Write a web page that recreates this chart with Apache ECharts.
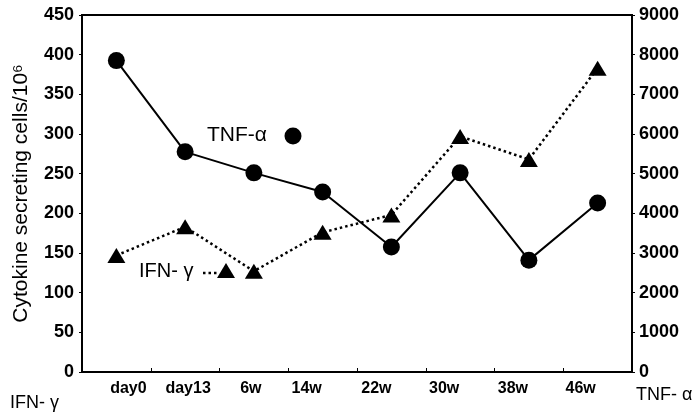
<!DOCTYPE html>
<html>
<head>
<meta charset="utf-8">
<script src="https://cdn.jsdelivr.net/npm/echarts@6/dist/echarts.min.js"></script>
<style>html,body{margin:0;padding:0;background:#fff}#c{width:700px;height:417px}</style>
</head>
<body>
<div id="c"></div>
<script>
const categories = ['day0', 'day13', '6w', '14w', '22w', '30w', '38w', '46w'];
const ifnGamma = [147, 183, 127, 176, 198, 297, 268, 383];
const tnfAlpha = [7850, 5550, 5020, 4540, 3150, 5020, 2820, 4260];
const leftTicks = {min: 0, max: 450, interval: 50};
const rightTicks = {min: 0, max: 9000, interval: 1000};

// horizontal nudges of the category labels, as in the printed figure (px)
const LABEL_SHIFT = [12, 3, -3, -16, -15, -16, -16, -17];

const FONT = '"Liberation Sans", Arial, sans-serif';
const xData = categories.map((c, i) => {
  const d = LABEL_SHIFT[i];
  return {value: c, textStyle: {padding: d >= 0 ? [0, 0, 0, 2 * d] : [0, -2 * d, 0, 0]}};
});

const chart = echarts.init(document.getElementById('c'), null, {renderer: 'canvas'});
chart.setOption({
  animation: false,
  backgroundColor: '#fff',
  grid: {left: 82, right: 68, top: 15, bottom: 45, show: true, borderColor: '#000', borderWidth: 2},
  xAxis: {
    type: 'category',
    data: xData,
    boundaryGap: true,
    axisLine: {lineStyle: {color: '#000', width: 2}},
    axisTick: {show: true, inside: true, length: 4, lineStyle: {color: '#000', width: 1}},
    axisLabel: {color: '#000', fontFamily: FONT, fontWeight: 'bold', fontSize: 16, margin: 9},
    splitLine: {show: false}
  },
  yAxis: [{
    type: 'value',
    min: leftTicks.min, max: leftTicks.max, interval: leftTicks.interval,
    position: 'left',
    name: 'Cytokine secreting cells/10\u2076',
    nameLocation: 'middle',
    nameRotate: 90,
    nameGap: 50,
    nameTextStyle: {color: '#000', fontFamily: FONT, fontSize: 21},
    axisLine: {show: true, lineStyle: {color: '#000', width: 2}},
    axisTick: {show: true, length: 3, lineStyle: {color: '#000'}},
    axisLabel: {color: '#000', fontFamily: FONT, fontWeight: 'bold', fontSize: 18, margin: 8, padding: [6, 0, 0, 0]},
    splitLine: {show: false}
  }, {
    type: 'value',
    min: rightTicks.min, max: rightTicks.max, interval: rightTicks.interval,
    position: 'right',
    axisLine: {show: true, lineStyle: {color: '#000', width: 2}},
    axisTick: {show: true, length: 3, lineStyle: {color: '#000'}},
    axisLabel: {color: '#000', fontFamily: FONT, fontWeight: 'bold', fontSize: 18, margin: 7, padding: [4, 0, 0, 0],
      formatter: v => String(v)},
    splitLine: {show: false}
  }],
  series: [{
    name: 'TNF-\u03b1',
    type: 'line',
    yAxisIndex: 1,
    data: tnfAlpha,
    symbol: 'circle',
    symbolSize: 17,
    itemStyle: {color: '#000'},
    lineStyle: {color: '#000', width: 2, type: 'solid'},
    z: 3
  }, {
    name: 'IFN-\u03b3',
    type: 'line',
    yAxisIndex: 0,
    data: ifnGamma,
    symbol: 'triangle',
    symbolSize: [18, 15],
    itemStyle: {color: '#000'},
    lineStyle: {color: '#000', width: 2.5, type: [2.5, 3]},
    z: 2
  }],
  graphic: [
    {type: 'text', left: 207, top: 125, style: {text: 'TNF-\u03b1', fill: '#000', font: '21px ' + FONT}},
    {type: 'circle', shape: {cx: 293, cy: 136, r: 8.5}, style: {fill: '#000'}},
    {type: 'text', left: 139, top: 261, style: {text: 'IFN- \u03b3', fill: '#000', font: '20px ' + FONT}},
    {type: 'line', shape: {x1: 203, y1: 273, x2: 218, y2: 273}, style: {stroke: '#000', lineWidth: 2.5, lineDash: [2.5, 3]}},
    {type: 'polygon', shape: {points: [[226, 263], [235, 278], [217, 278]]}, style: {fill: '#000'}},
    {type: 'text', left: 10, top: 394, style: {text: 'IFN- \u03b3', fill: '#000', font: '18px ' + FONT}},
    {type: 'text', left: 636, top: 386, style: {text: 'TNF- \u03b1', fill: '#000', font: '18px ' + FONT}}
  ]
});
</script>
</body>
</html>
